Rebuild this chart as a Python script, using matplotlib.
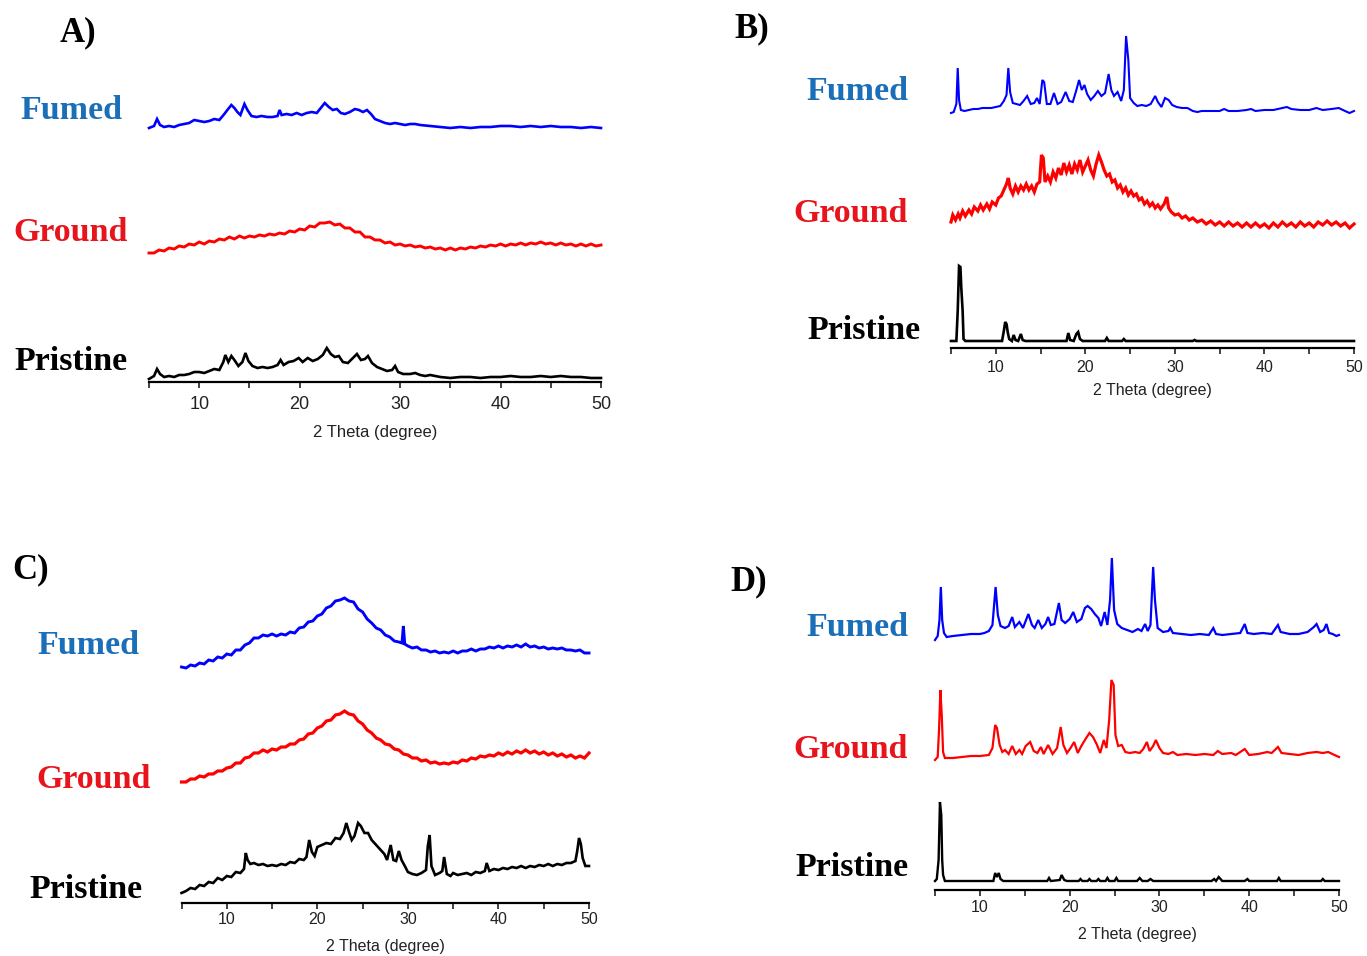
import numpy as np
import matplotlib
matplotlib.use("Agg")
import matplotlib.pyplot as plt

plt.rcParams["font.family"] = ["Liberation Sans", "DejaVu Sans"]

W_PX, H_PX = 1367, 956

SAMPLES = ["Fumed", "Ground", "Pristine"]
TICKS_MAJOR = [10, 20, 30, 40, 50]
TICKS_MINOR = [5, 15, 25, 35, 45]
X_LABEL = "2 Theta (degree)"

# 2-theta grid (0.5 deg step) shared by the evenly sampled patterns
grid_half = np.arange(5.0, 50.01, 0.5)

# ---------------- Panel A ----------------
a_fumed_x = [5.0, 5.5, 5.8, 6.1, 6.5, 7, 7.5, 8, 8.5, 9, 9.5, 10, 10.5, 11, 11.5, 12, 12.5, 12.8, 13.2, 13.5,
             13.8, 14.1, 14.5, 14.8, 15.2, 15.7, 16.2, 16.8, 17.3, 17.8, 18.0, 18.2, 18.7, 19.2, 19.7, 20.2, 20.7,
             21.2, 21.7, 22.1, 22.5, 22.9, 23.3, 23.7, 24.1, 24.5, 25.0, 25.5, 25.9, 26.3, 26.7, 27.1, 27.5, 28.0,
             28.5, 29, 29.5, 30, 30.5, 31, 31.5, 32, 33, 34, 35, 36, 37, 38, 39, 40, 41, 42, 43, 44, 45, 46, 47,
             48, 49, 50]
a_fumed_y = [2, 4, 11, 5, 3, 4, 3, 5, 6, 7, 10, 9, 8, 9, 11, 10, 16, 20, 25, 22, 18, 15, 26, 20, 14, 13, 14, 13,
             13, 14, 20, 15, 16, 15, 17, 15, 17, 18, 17, 22, 27, 23, 20, 21, 17, 16, 18, 21, 20, 18, 20, 16, 11, 9,
             7, 6, 7, 6, 5, 6, 6, 5, 4, 3, 2, 3, 2, 3, 3, 4, 4, 3, 4, 3, 4, 3, 3, 2, 3, 2]

a_ground_x = grid_half
a_ground_y = [3, 3, 6, 5, 8, 7, 10, 9, 12, 11,
              14, 12, 15, 14, 17, 16, 19, 17, 20, 18,
              20, 19, 21, 20, 22, 21, 23, 22, 25, 24,
              27, 26, 30, 29, 33, 33, 34, 31, 32, 28,
              28, 24, 24, 19, 19, 16, 16, 13, 14, 11,
              12, 10, 11, 9, 10, 8, 9, 7, 8, 6,
              8, 6, 8, 7, 9, 8, 10, 9, 11, 10,
              12, 10, 12, 11, 13, 11, 13, 12, 14, 12,
              13, 11, 13, 11, 12, 10, 12, 10, 12, 10,
              11]

a_pristine_x = [5.0, 5.5, 5.8, 6.1, 6.5, 7, 7.5, 8, 8.5, 9, 9.5, 10, 10.5, 11, 11.5, 12, 12.4, 12.6, 12.9, 13.2,
                13.5, 13.9, 14.3, 14.6, 14.9, 15.3, 15.8, 16.3, 16.8, 17.3, 17.8, 18.1, 18.4, 18.9, 19.4, 19.9,
                20.3, 20.8, 21.3, 21.8, 22.3, 22.7, 23.1, 23.5, 23.9, 24.3, 24.8, 25.3, 25.7, 26.1, 26.5, 26.8,
                27.2, 27.7, 28.2, 28.7, 29.2, 29.5, 29.8, 30.3, 31, 31.5, 32, 32.5, 33, 34, 35, 36, 37, 38, 39, 40,
                41, 42, 43, 44, 45, 46, 47, 48, 49, 50]
a_pristine_y = [1, 4, 11, 6, 3, 4, 3, 5, 5, 6, 8, 8, 7, 9, 11, 10, 18, 25, 18, 24, 20, 14, 18, 27, 19, 14, 12, 13,
                12, 13, 15, 20, 15, 18, 19, 22, 18, 22, 19, 21, 25, 32, 26, 23, 24, 18, 17, 22, 26, 20, 21, 24, 17,
                13, 11, 9, 10, 14, 8, 6, 6, 7, 5, 4, 5, 3, 2, 3, 3, 2, 3, 3, 4, 3, 3, 4, 3, 4, 3, 3, 2, 2]

# ---------------- Panel B ----------------
b_fumed_x = [5.0, 5.3, 5.6, 5.75, 5.9, 6.1, 6.5, 7, 7.5, 8, 8.5, 9, 9.5, 10, 10.5, 10.9, 11.2, 11.4, 11.6, 11.9,
             12.3, 12.7, 13.1, 13.5, 13.9, 14.3, 14.6, 14.9, 15.2, 15.4, 15.7, 16.1, 16.5, 16.9, 17.3, 17.8, 18.2,
             18.6, 19.0, 19.3, 19.6, 19.9, 20.2, 20.6, 21.0, 21.4, 21.8, 22.2, 22.6, 22.9, 23.2, 23.6, 24.0, 24.3,
             24.55, 24.8, 25.0, 25.4, 25.8, 26.3, 26.8, 27.3, 27.8, 28.1, 28.5, 28.9, 29.3, 29.7, 30.2, 30.8, 31.4,
             32, 32.5, 33, 34, 35, 35.5, 36, 37, 38, 38.5, 39, 40, 41, 42, 42.5, 43, 44, 45, 45.8, 46.5, 47.5, 48.3,
             49, 49.5, 50]
b_fumed_y = [1, 2, 10, 46, 14, 4, 3, 4, 5, 5, 6, 6, 6, 7, 8, 13, 19, 46, 22, 11, 10, 9, 13, 18, 10, 11, 16, 10,
             34, 32, 10, 10, 21, 10, 12, 22, 13, 12, 24, 34, 24, 29, 20, 14, 18, 23, 18, 21, 40, 24, 18, 22, 13,
             24, 78, 54, 16, 11, 8, 9, 8, 10, 18, 12, 7, 16, 14, 9, 7, 6, 6, 3, 2, 3, 3, 3, 5, 3, 3, 4, 5, 3, 4, 4,
             6, 7, 5, 4, 4, 6, 4, 5, 6, 3, 1, 3]

b_ground_x = [5.0, 5.2, 5.5, 5.8, 6.0, 6.3, 6.6, 7.0, 7.3, 7.6, 8.0, 8.3, 8.6, 9.0, 9.3, 9.6, 10.0, 10.3, 10.6,
              10.9, 11.2, 11.4, 11.6, 11.9, 12.2, 12.5, 12.8, 13.1, 13.4, 13.7, 14.0, 14.3, 14.6, 14.9, 15.1, 15.3,
              15.5, 15.8, 16.1, 16.4, 16.7, 17.0, 17.3, 17.6, 17.9, 18.2, 18.5, 18.8, 19.1, 19.4, 19.7, 20.0, 20.3,
              20.6, 20.9, 21.2, 21.5, 21.8, 22.1, 22.4, 22.7, 23.0, 23.3, 23.6, 23.9, 24.2, 24.5, 24.8, 25.1, 25.4,
              25.7, 26.0, 26.3, 26.6, 26.9, 27.2, 27.5, 27.8, 28.1, 28.4, 28.8, 29.1, 29.3, 29.6, 30.0, 30.4, 30.8,
              31.2, 31.6, 32.0, 32.5, 33.0, 33.5, 34.0, 34.5, 35.0, 35.5, 36.0, 36.5, 37.0, 37.5, 38.0, 38.5, 39.0,
              39.5, 40.0, 40.5, 41.0, 41.5, 42.0, 42.5, 43.0, 43.5, 44.0, 44.5, 45.0, 45.5, 46.0, 46.5, 47.0, 47.5,
              48.0, 48.5, 49.0, 49.5, 50.0]
b_ground_y = [10, 17, 12, 18, 14, 21, 16, 22, 18, 25, 21, 27, 22, 28, 23, 30, 27, 34, 36, 42, 48, 54, 44, 38, 46,
              40, 46, 42, 48, 42, 46, 40, 48, 50, 77, 74, 50, 56, 50, 60, 54, 64, 57, 69, 60, 67, 58, 68, 62, 72,
              60, 66, 72, 62, 56, 68, 77, 70, 62, 56, 58, 50, 52, 44, 47, 40, 44, 37, 41, 36, 38, 32, 34, 28, 31,
              26, 29, 24, 27, 23, 28, 35, 24, 20, 17, 18, 14, 16, 12, 14, 10, 12, 8, 11, 7, 10, 6, 10, 6, 9, 5, 9,
              5, 9, 5, 8, 4, 9, 5, 10, 6, 9, 5, 10, 6, 9, 5, 10, 7, 11, 7, 10, 6, 9, 4, 8]

b_pristine_x = [5.0, 5.6, 5.75, 5.9, 6.05, 6.15, 6.3, 6.4, 6.6, 10.7, 10.9, 11.05, 11.2, 11.35, 11.5, 11.8, 12.0,
                12.2, 12.5, 12.8, 13.0, 13.3, 17.9, 18.1, 18.3, 18.7, 19.0, 19.2, 19.4, 19.7, 22.2, 22.4, 22.6,
                24.1, 24.3, 24.5, 32.0, 32.2, 32.4, 50.0]
b_pristine_y = [0, 0, 30, 75, 74, 53, 30, 2, 0, 0, 10, 19, 17, 8, 2, 0, 6, 1, 0, 7, 1, 0, 0, 8, 1, 0, 7, 9, 2, 0,
                0, 3, 0, 0, 2, 0, 0, 1, 0, 0]

# ---------------- Panel C ----------------
c_fumed_x = [5, 5.5, 6, 6.5, 7, 7.5, 8, 8.5, 9, 9.5, 10, 10.5, 11, 11.5, 12, 12.5, 13, 13.5, 14, 14.5, 15, 15.5,
             16, 16.5, 17, 17.5, 18, 18.5, 19, 19.5, 20, 20.5, 21, 21.5, 22, 22.5, 23, 23.5, 24, 24.5, 25, 25.5,
             26, 26.5, 27, 27.5, 28, 28.5, 29, 29.35, 29.5, 29.65, 30, 30.5, 31, 31.5, 32, 32.5, 33, 33.5, 34,
             34.5, 35, 35.5, 36, 36.5, 37, 37.5, 38, 38.5, 39, 39.5, 40, 40.5, 41, 41.5, 42, 42.5, 43, 43.5, 44,
             44.5, 45, 45.5, 46, 46.5, 47, 47.5, 48, 48.5, 49, 49.5, 50]
c_fumed_y = [3, 2, 5, 4, 7, 6, 10, 9, 13, 12, 16, 15, 20, 20, 25, 27, 32, 32, 35, 34, 36, 34, 36, 35, 38, 37, 42,
             43, 48, 49, 54, 56, 62, 64, 69, 70, 72, 69, 68, 61, 58, 51, 47, 42, 40, 35, 33, 29, 28, 27, 44, 26,
             24, 22, 23, 20, 20, 18, 19, 17, 18, 17, 19, 17, 19, 19, 21, 19, 21, 21, 23, 22, 24, 22, 24, 23, 25,
             23, 26, 23, 24, 22, 23, 21, 22, 21, 22, 20, 20, 19, 20, 17, 17]

c_ground_x = grid_half
c_ground_y = [3, 3, 6, 6, 9, 8, 11, 11, 14, 14,
              17, 18, 22, 22, 27, 28, 32, 32, 35, 33,
              36, 35, 38, 38, 41, 41, 45, 46, 51, 52,
              57, 59, 64, 65, 70, 71, 74, 71, 70, 64,
              61, 55, 52, 47, 45, 41, 40, 36, 35, 31,
              30, 27, 27, 24, 25, 22, 23, 21, 22, 21,
              23, 22, 25, 24, 27, 26, 29, 28, 30, 29,
              32, 30, 33, 31, 34, 32, 35, 32, 34, 31,
              33, 30, 32, 29, 31, 28, 30, 27, 29, 27,
              32]

c_pristine_x = [5, 5.5, 6, 6.5, 7, 7.5, 8, 8.5, 9, 9.5, 10, 10.5, 11, 11.5, 11.9, 12.1, 12.3, 12.6, 13, 13.5, 14,
                14.5, 15, 15.5, 16, 16.5, 17, 17.5, 18, 18.5, 18.8, 19.1, 19.4, 19.7, 20, 20.5, 21, 21.5, 22,
                22.5, 22.9, 23.2, 23.5, 23.8, 24.1, 24.5, 24.8, 25.2, 25.6, 26, 26.5, 27, 27.4, 27.7, 28.1, 28.4,
                28.7, 29.0, 29.3, 29.6, 30, 30.5, 31, 31.5, 32.0, 32.2, 32.4, 32.6, 33, 33.5, 33.8, 34.0, 34.3,
                34.7, 35, 35.5, 36, 36.5, 37, 37.5, 38, 38.5, 38.7, 39, 39.5, 40, 40.5, 41, 41.5, 42, 42.5, 43,
                43.5, 44, 44.5, 45, 45.5, 46, 46.5, 47, 47.5, 48, 48.5, 48.7, 48.9, 49.1, 49.3, 49.6, 50]
c_pristine_y = [3, 5, 8, 7, 11, 10, 14, 13, 18, 16, 20, 19, 24, 23, 27, 43, 36, 32, 33, 31, 32, 30, 31, 30, 32,
                31, 34, 33, 37, 36, 39, 56, 44, 40, 49, 51, 53, 52, 58, 57, 63, 73, 64, 56, 60, 73, 70, 63, 63, 56,
                51, 46, 42, 36, 51, 36, 35, 45, 36, 31, 24, 22, 21, 23, 26, 50, 61, 30, 21, 23, 25, 39, 22, 20, 23,
                21, 22, 23, 21, 24, 23, 25, 33, 25, 27, 26, 28, 27, 29, 28, 30, 28, 30, 29, 31, 30, 32, 30, 32, 31,
                33, 33, 35, 45, 58, 52, 38, 30, 30]

# ---------------- Panel D ----------------
d_fumed_x = [5.0, 5.3, 5.5, 5.65, 5.8, 6.0, 6.3, 7, 8, 9, 10, 10.5, 11.0, 11.4, 11.75, 12.0, 12.3, 12.8, 13.2,
             13.6, 13.9, 14.4, 14.8, 15.4, 15.8, 16.1, 16.5, 16.9, 17.3, 17.6, 17.9, 18.3, 18.8, 19.1, 19.5, 20.0,
             20.4, 20.8, 21.3, 21.7, 22.0, 22.4, 22.8, 23.2, 23.5, 23.9, 24.2, 24.5, 24.7, 24.95, 25.3, 25.8,
             26.4, 27, 27.6, 28.0, 28.4, 28.7, 29.0, 29.3, 29.5, 29.8, 30.4, 31.0, 31.2, 31.5, 32.5, 33.5, 34.5,
             35.5, 36.0, 36.3, 37, 38, 39, 39.5, 39.8, 40.5, 41.5, 42.5, 43.2, 43.5, 44.5, 45.5, 46.5, 47.2, 47.5,
             47.9, 48.3, 48.6, 48.9, 49.3, 49.7, 50]
d_fumed_y = [0, 4, 20, 53, 20, 7, 3, 4, 5, 6, 6, 7, 9, 15, 53, 25, 14, 12, 14, 23, 13, 18, 12, 26, 15, 12, 20,
             12, 16, 23, 15, 16, 37, 20, 17, 21, 28, 18, 21, 32, 34, 31, 26, 22, 14, 28, 15, 40, 82, 30, 16, 12,
             10, 8, 11, 9, 16, 9, 15, 73, 40, 12, 8, 9, 12, 7, 6, 5, 6, 5, 12, 6, 5, 6, 7, 16, 7, 6, 7, 6, 15, 8,
             6, 6, 8, 13, 16, 8, 10, 16, 7, 6, 4, 5]

d_ground_x = [5.0, 5.3, 5.45, 5.6, 5.75, 5.9, 6.1, 6.5, 7, 8, 9, 10, 11, 11.4, 11.7, 11.9, 12.2, 12.5, 12.8, 13.2,
              13.6, 14.0, 14.4, 14.7, 15.1, 15.6, 16.0, 16.4, 16.8, 17.1, 17.6, 18.1, 18.6, 19.0, 19.3, 19.7,
              20.1, 20.5, 20.9, 21.3, 21.7, 22.2, 22.6, 23.0, 23.4, 23.8, 24.1, 24.4, 24.65, 24.9, 25.1, 25.4,
              25.8, 26.2, 26.7, 27.3, 27.8, 28.2, 28.6, 28.9, 29.3, 29.6, 30.0, 30.4, 31, 31.5, 32, 33, 34, 35,
              36, 36.5, 37, 38, 38.5, 39.5, 40, 41, 42, 42.5, 43.2, 43.6, 44.5, 45.5, 46.5, 47.5, 48.2, 48.8,
              49.5, 50]
d_ground_y = [0, 3, 30, 70, 45, 8, 2, 2, 2, 3, 4, 4, 5, 12, 35, 32, 15, 8, 10, 6, 14, 6, 10, 6, 14, 18, 9, 7,
              13, 6, 15, 6, 12, 33, 15, 7, 12, 18, 7, 14, 20, 27, 23, 16, 7, 20, 12, 40, 80, 75, 25, 14, 15, 8, 7,
              8, 7, 11, 18, 9, 14, 20, 12, 7, 6, 8, 5, 6, 5, 6, 5, 9, 6, 7, 5, 11, 5, 6, 8, 7, 13, 7, 6, 5, 7, 8,
              7, 8, 5, 3]

d_pristine_x = [5.0, 5.2, 5.4, 5.55, 5.7, 5.8, 5.9, 6.1, 11.5, 11.7, 11.9, 12.1, 12.3, 12.6, 17.5, 17.7, 17.9,
                18.9, 19.1, 19.4, 19.7, 21.0, 21.2, 21.4, 22.0, 22.2, 22.4, 23.0, 23.2, 23.4, 24.0, 24.2, 24.4,
                25.0, 25.2, 25.4, 27.5, 27.8, 28.1, 28.7, 29.0, 29.3, 35.8, 36.1, 36.3, 36.6, 37.0, 39.5, 39.8,
                40.0, 43.1, 43.3, 43.5, 48.0, 48.2, 48.4, 50.0]
d_pristine_y = [0, 2, 21, 79, 66, 21, 6, 0, 0, 8, 4, 8, 2, 0, 0, 3, 0, 1, 6, 1, 0, 0, 2, 0, 0, 2, 0, 0, 2, 0, 0,
                3, 0, 0, 3, 0, 0, 3, 0, 0, 2, 0, 0, 2, 0, 4, 0, 0, 2, 0, 0, 3, 0, 0, 2, 0, 0]

# ---------------- styling ----------------
LINE_COLORS = {"Fumed": "#0000ff", "Ground": "#ff0000", "Pristine": "#000000"}
LABEL_COLORS = {"Fumed": "#1a6fb8", "Ground": "#e8141c", "Pristine": "#000000"}
SERIF_BOLD = dict(family=["Liberation Serif", "DejaVu Serif"], weight="bold")

# pixel layout of each panel: axis span, baseline, offsets of the stacked traces,
# line widths, sample-label anchors and panel tag anchor
panels = [
    dict(tag="A)", tag_xy=(78, 41), x0=149, x1=601, axis_y=382, top_y=90,
         tick_fs=13, xlab_fs=12, tick_pad=5.5, xlab_dy=51, lws=[1.9, 2.1, 1.9],
         data=[(a_fumed_x, a_fumed_y), (a_ground_x, a_ground_y), (a_pristine_x, a_pristine_y)],
         offsets=[252, 126, 2],
         label_xy=[(71, 119), (71, 241), (71, 370)]),
    dict(tag="B)", tag_xy=(752, 37), x0=951, x1=1354, axis_y=348, top_y=25,
         tick_fs=11.5, xlab_fs=11.5, tick_pad=4.0, xlab_dy=42, lws=[1.5, 2.3, 1.9],
         data=[(b_fumed_x, b_fumed_y), (b_ground_x, b_ground_y), (b_pristine_x, b_pristine_y)],
         offsets=[234, 116, 7],
         label_xy=[(857, 100), (851, 222), (864, 339)]),
    dict(tag="C)", tag_xy=(31, 578), x0=181.5, x1=589, axis_y=903, top_y=580,
         tick_fs=11.5, xlab_fs=11.5, tick_pad=2.0, xlab_dy=43, lws=[2.1, 2.3, 1.9],
         data=[(c_fumed_x, c_fumed_y), (c_ground_x, c_ground_y), (c_pristine_x, c_pristine_y)],
         offsets=[233, 118, 7],
         label_xy=[(88, 654), (94, 788), (86, 898)]),
    dict(tag="D)", tag_xy=(749, 590), x0=935, x1=1339, axis_y=890, top_y=545,
         tick_fs=11.5, xlab_fs=11.5, tick_pad=3.0, xlab_dy=45, lws=[1.6, 1.6, 1.7],
         data=[(d_fumed_x, d_fumed_y), (d_ground_x, d_ground_y), (d_pristine_x, d_pristine_y)],
         offsets=[250, 130, 9],
         label_xy=[(857, 636), (851, 758), (852, 876)]),
]

fig = plt.figure(figsize=(W_PX / 100, H_PX / 100), dpi=100)
fig.patch.set_facecolor("white")


def fx(px):
    return px / W_PX


def fy(py):
    return 1 - py / H_PX


for p in panels:
    height_px = p["axis_y"] - p["top_y"]
    ax = fig.add_axes([fx(p["x0"]), fy(p["axis_y"]), (p["x1"] - p["x0"]) / W_PX, height_px / H_PX])
    ax.patch.set_alpha(0)
    ax.set_xlim(5, 50)
    ax.set_ylim(0, height_px)

    for name, (xs, ys), off, lw in zip(SAMPLES, p["data"], p["offsets"], p["lws"]):
        ax.plot(xs, np.asarray(ys, dtype=float) + off, color=LINE_COLORS[name],
                lw=lw, solid_joinstyle="miter", clip_on=False)

    for side in ("left", "top", "right"):
        ax.spines[side].set_visible(False)
    ax.spines["bottom"].set_linewidth(1.6)
    ax.set_yticks([])
    ax.set_xticks(TICKS_MAJOR)
    ax.set_xticks(TICKS_MINOR, minor=True)
    ax.tick_params(axis="x", which="both", direction="out", length=4.5, width=1.2,
                   pad=p["tick_pad"], labelsize=p["tick_fs"], colors="#222222")
    ax.set_xlabel(X_LABEL, fontsize=p["xlab_fs"], color="#222222")
    ax.xaxis.set_label_coords(0.5, -p["xlab_dy"] / height_px)
    ax.xaxis.label.set_verticalalignment("center")

    for name, (lx, ly) in zip(SAMPLES, p["label_xy"]):
        fig.text(fx(lx), fy(ly), name, ha="center", va="baseline", fontsize=24.5,
                 color=LABEL_COLORS[name], **SERIF_BOLD)
    fig.text(fx(p["tag_xy"][0]), fy(p["tag_xy"][1]), p["tag"], ha="center", va="baseline",
             fontsize=25, color="black", **SERIF_BOLD)

fig.savefig("out.png", dpi=100, facecolor="white")
